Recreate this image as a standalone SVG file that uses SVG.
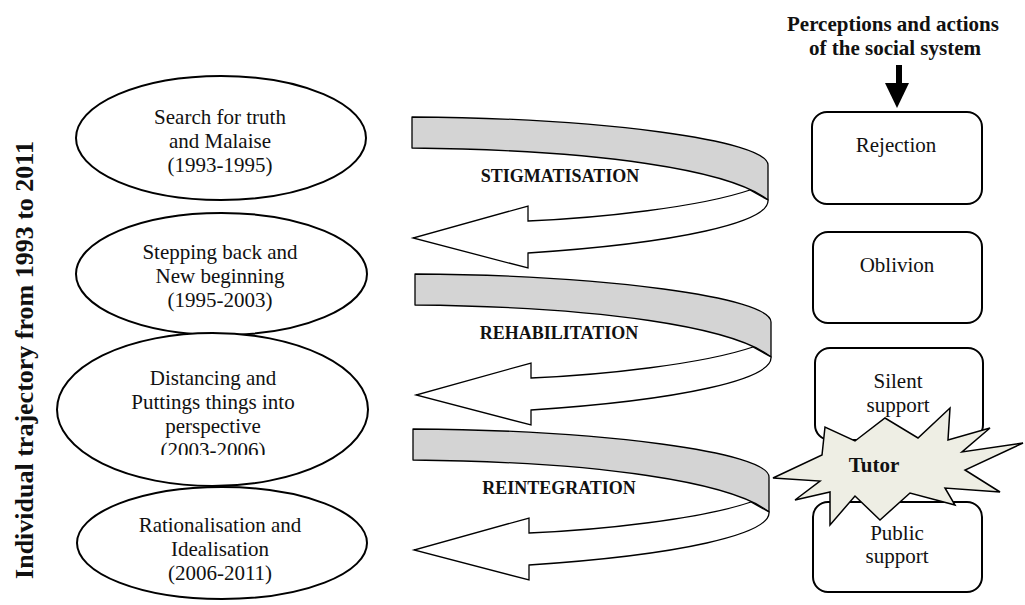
<svg xmlns="http://www.w3.org/2000/svg" width="1025" height="605" viewBox="0 0 1025 605">
<style>
.t{font-family:"Times New Roman","Liberation Serif",Tinos,serif;font-size:21px;fill:#111;text-anchor:middle}
.b{font-weight:bold}
.el{fill:#fff;stroke:#000;stroke-width:2}
.bx{fill:#fff;stroke:#000;stroke-width:2}
.gr{fill:#d4d4d4;stroke:#000;stroke-width:1.3;stroke-linejoin:round}
.wh{fill:#fff;stroke:#000;stroke-width:1.3;stroke-linejoin:miter}
.lb{font-family:"Times New Roman","Liberation Serif",Tinos,serif;font-size:18px;font-weight:bold;fill:#111;text-anchor:middle}
</style>
<defs>
<clipPath id="c3"><rect x="0" y="0" width="400" height="455"/></clipPath>
<g id="curl">
<path class="gr" d="M412,117 C600,118 768,140 768,165 L768,200 C730,170 600,150 412,148 Z"/>
<path class="wh" d="M750,190 C700,207 600,218 528,221 L528,206 L413,238 L528,268 L528,253 C680,243 770,222 768,200 Z"/>
</g>
</defs>
<rect width="1025" height="605" fill="#fff"/>

<text class="t b" style="font-size:26px" transform="translate(33,360) rotate(-90)">Individual trajectory from 1993 to 2011</text>

<g id="n1">
<ellipse class="el" cx="221" cy="138" rx="145" ry="62"/>
<text class="t" x="220" y="124">Search for truth</text>
<text class="t" x="220" y="148">and Malaise</text>
<text class="t" x="220" y="172">(1993-1995)</text>
</g>
<g id="n2">
<ellipse class="el" cx="221.5" cy="274" rx="145.5" ry="61"/>
<text class="t" x="220" y="259">Stepping back and</text>
<text class="t" x="220" y="283">New beginning</text>
<text class="t" x="220" y="307">(1995-2003)</text>
</g>
<g id="n3">
<ellipse class="el" cx="212.5" cy="409.5" rx="155.5" ry="76.5"/>
<g clip-path="url(#c3)">
<text class="t" x="213" y="385">Distancing and</text>
<text class="t" x="213" y="409">Puttings things into</text>
<text class="t" x="213" y="433">perspective</text>
<text class="t" x="213" y="457">(2003-2006)</text>
</g>
</g>
<g id="n4">
<ellipse class="el" cx="222" cy="543" rx="145" ry="56"/>
<text class="t" x="220" y="532">Rationalisation and</text>
<text class="t" x="220" y="556">Idealisation</text>
<text class="t" x="220" y="580">(2006-2011)</text>
</g>

<g id="header">
<text class="t b" x="893" y="31">Perceptions and actions</text>
<text class="t b" x="895" y="55">of the social system</text>
</g>

<g id="r1">
<rect class="bx" x="812" y="112" width="170" height="92" rx="15"/>
<text class="t" x="896" y="152">Rejection</text>
</g>
<g id="r2">
<rect class="bx" x="813" y="232" width="169" height="91" rx="15"/>
<text class="t" x="897" y="272">Oblivion</text>
</g>
<g id="r3">
<rect class="bx" x="815" y="348" width="168" height="92" rx="15"/>
<text class="t" x="898" y="388">Silent</text>
<text class="t" x="898" y="412">support</text>
</g>
<g id="r4">
<rect class="bx" x="813" y="502" width="169" height="90" rx="15"/>
<text class="t" x="897" y="540">Public</text>
<text class="t" x="897" y="563">support</text>
</g>

<g id="connectors">
<rect x="896" y="65" width="6" height="20" fill="#000"/>
<polygon points="885,83 909,83 897,108" fill="#000"/>
<use href="#curl"/>
<use href="#curl" transform="translate(3,157)"/>
<use href="#curl" transform="translate(1,312)"/>
<text class="lb" x="560" y="182">STIGMATISATION</text>
<text class="lb" x="559" y="339">REHABILITATION</text>
<text class="lb" x="559" y="494">REINTEGRATION</text>
</g>

<g id="tutor">
<polygon points="773,478 822,455 825,427 855,441 885,418 918,438 950,408 948,440 990,428 962,452 1023,443 965,470 1000,492 945,488 955,505 910,493 880,520 855,496 830,525 830,492 795,500 820,481" fill="#eeeee4" stroke="#000" stroke-width="1.5" stroke-linejoin="miter"/>
<text class="t b" x="874" y="472">Tutor</text>
</g>
</svg>
